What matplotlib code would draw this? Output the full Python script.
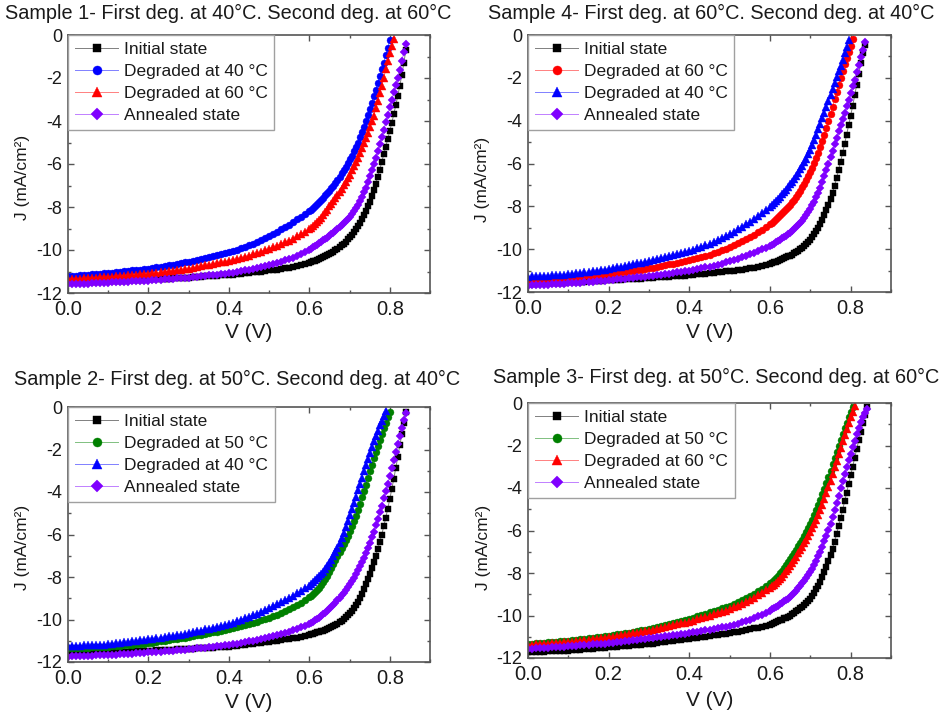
import matplotlib
matplotlib.use("Agg")
import matplotlib.pyplot as plt
from matplotlib.ticker import MultipleLocator, FormatStrFormatter
from matplotlib.colors import to_rgba

plt.rcParams['font.family'] = ['Liberation Sans', 'DejaVu Sans']
plt.rcParams['axes.unicode_minus'] = False

# Voltage sweep (V): 10 mV steps up to 0.6 V, 5 mV steps beyond
VOLTS = [0.00, 0.01, 0.02, 0.03, 0.04, 0.05, 0.06, 0.07, 0.08, 0.09,
         0.10, 0.11, 0.12, 0.13, 0.14, 0.15, 0.16, 0.17, 0.18, 0.19,
         0.20, 0.21, 0.22, 0.23, 0.24, 0.25, 0.26, 0.27, 0.28, 0.29,
         0.30, 0.31, 0.32, 0.33, 0.34, 0.35, 0.36, 0.37, 0.38, 0.39,
         0.40, 0.41, 0.42, 0.43, 0.44, 0.45, 0.46, 0.47, 0.48, 0.49,
         0.50, 0.51, 0.52, 0.53, 0.54, 0.55, 0.56, 0.57, 0.58, 0.59,
         0.60,
         0.605, 0.61, 0.615, 0.62, 0.625, 0.63, 0.635, 0.64, 0.645, 0.65,
         0.655, 0.66, 0.665, 0.67, 0.675, 0.68, 0.685, 0.69, 0.695, 0.70,
         0.705, 0.71, 0.715, 0.72, 0.725, 0.73, 0.735, 0.74, 0.745, 0.75,
         0.755, 0.76, 0.765, 0.77, 0.775, 0.78, 0.785, 0.79, 0.795, 0.80,
         0.805, 0.81, 0.815, 0.82, 0.825, 0.83, 0.835, 0.84]

# ---- Sample 1 current density (mA/cm2) ----
S1_INITIAL = [
    -11.52, -11.51, -11.51, -11.50, -11.49, -11.48, -11.48, -11.47, -11.46, -11.46,
    -11.45, -11.44, -11.43, -11.43, -11.42, -11.41, -11.40, -11.39, -11.39, -11.38,
    -11.37, -11.36, -11.35, -11.34, -11.33, -11.33, -11.32, -11.31, -11.30, -11.29,
    -11.28, -11.27, -11.26, -11.24, -11.23, -11.22, -11.21, -11.20, -11.18, -11.17,
    -11.16, -11.14, -11.12, -11.10, -11.08, -11.06, -11.04, -11.02, -11.00, -10.97,
    -10.95, -10.93, -10.91, -10.89, -10.86, -10.83, -10.80, -10.76, -10.71, -10.66,
    -10.60,
    -10.57, -10.53, -10.50, -10.46, -10.42, -10.38, -10.33, -10.29, -10.24, -10.19,
    -10.13, -10.07, -10.01, -9.94, -9.87, -9.79, -9.70, -9.61, -9.51, -9.40,
    -9.29, -9.17, -9.04, -8.90, -8.74, -8.57, -8.39, -8.19, -7.97, -7.75,
    -7.50, -7.22, -6.92, -6.60, -6.26, -5.91, -5.55, -5.19, -4.83, -4.46,
    -4.08, -3.68, -3.26, -2.82, -2.35, -1.85, -1.30, -0.70]
S1_DEG40 = [
    -11.22, -11.20, -11.19, -11.17, -11.16, -11.14, -11.13, -11.11, -11.10, -11.08,
    -11.07, -11.05, -11.03, -11.01, -10.99, -10.97, -10.95, -10.93, -10.91, -10.89,
    -10.87, -10.84, -10.81, -10.77, -10.74, -10.71, -10.68, -10.65, -10.61, -10.58,
    -10.55, -10.51, -10.47, -10.42, -10.38, -10.33, -10.28, -10.24, -10.19, -10.15,
    -10.10, -10.04, -9.98, -9.92, -9.85, -9.78, -9.71, -9.63, -9.54, -9.45,
    -9.35, -9.25, -9.15, -9.04, -8.93, -8.82, -8.70, -8.58, -8.46, -8.33,
    -8.20,
    -8.12, -8.04, -7.95, -7.86, -7.77, -7.67, -7.57, -7.46, -7.35, -7.24,
    -7.12, -7.00, -6.87, -6.73, -6.59, -6.44, -6.29, -6.13, -5.96, -5.79,
    -5.61, -5.41, -5.21, -5.00, -4.76, -4.51, -4.26, -4.00, -3.72, -3.43,
    -3.14, -2.85, -2.54, -2.23, -1.92, -1.60, -1.28, -0.95, -0.60, -0.25]
S1_DEG60 = [
    -11.36, -11.35, -11.34, -11.33, -11.32, -11.31, -11.29, -11.28, -11.27, -11.26,
    -11.25, -11.24, -11.22, -11.21, -11.19, -11.18, -11.16, -11.15, -11.13, -11.12,
    -11.10, -11.08, -11.05, -11.03, -11.01, -10.99, -10.96, -10.94, -10.92, -10.89,
    -10.87, -10.83, -10.80, -10.76, -10.72, -10.69, -10.65, -10.61, -10.57, -10.54,
    -10.50, -10.46, -10.41, -10.36, -10.31, -10.26, -10.20, -10.15, -10.08, -10.02,
    -9.95, -9.88, -9.81, -9.73, -9.65, -9.56, -9.47, -9.37, -9.27, -9.15,
    -9.03,
    -8.96, -8.88, -8.80, -8.70, -8.60, -8.49, -8.37, -8.25, -8.12, -7.97,
    -7.84, -7.71, -7.57, -7.43, -7.29, -7.14, -6.98, -6.82, -6.66, -6.49,
    -6.30, -6.10, -5.90, -5.70, -5.48, -5.26, -5.03, -4.80, -4.54, -4.28,
    -4.02, -3.75, -3.41, -3.06, -2.71, -2.35, -1.98, -1.60, -1.23, -0.85,
    -0.50, -0.18]
S1_ANNEALED = [
    -11.60, -11.59, -11.58, -11.58, -11.57, -11.56, -11.55, -11.54, -11.54, -11.53,
    -11.52, -11.51, -11.50, -11.49, -11.48, -11.47, -11.46, -11.45, -11.44, -11.43,
    -11.42, -11.41, -11.39, -11.38, -11.36, -11.35, -11.34, -11.32, -11.31, -11.29,
    -11.28, -11.26, -11.24, -11.22, -11.20, -11.18, -11.16, -11.14, -11.12, -11.10,
    -11.08, -11.05, -11.02, -10.98, -10.95, -10.91, -10.87, -10.83, -10.79, -10.75,
    -10.70, -10.65, -10.60, -10.54, -10.48, -10.42, -10.35, -10.27, -10.19, -10.10,
    -10.00,
    -9.94, -9.88, -9.81, -9.75, -9.68, -9.62, -9.55, -9.48, -9.42, -9.35,
    -9.27, -9.19, -9.10, -9.02, -8.94, -8.85, -8.76, -8.66, -8.56, -8.45,
    -8.32, -8.19, -8.05, -7.90, -7.72, -7.53, -7.32, -7.10, -6.84, -6.57,
    -6.29, -6.00, -5.70, -5.39, -5.07, -4.75, -4.41, -4.06, -3.71, -3.35,
    -3.01, -2.67, -2.34, -2.00, -1.61, -1.20, -0.80, -0.40]

# ---- Sample 4 ----
S4_INITIAL = [
    -11.62, -11.61, -11.61, -11.60, -11.59, -11.59, -11.58, -11.57, -11.57, -11.56,
    -11.55, -11.54, -11.53, -11.52, -11.51, -11.50, -11.49, -11.48, -11.47, -11.46,
    -11.45, -11.44, -11.43, -11.42, -11.41, -11.40, -11.39, -11.38, -11.37, -11.36,
    -11.35, -11.34, -11.32, -11.31, -11.30, -11.29, -11.27, -11.26, -11.25, -11.23,
    -11.22, -11.20, -11.18, -11.16, -11.14, -11.12, -11.10, -11.08, -11.06, -11.04,
    -11.02, -11.00, -10.98, -10.96, -10.93, -10.90, -10.87, -10.83, -10.79, -10.75,
    -10.70,
    -10.66, -10.62, -10.58, -10.54, -10.50, -10.46, -10.42, -10.38, -10.34, -10.30,
    -10.25, -10.19, -10.13, -10.07, -10.01, -9.95, -9.86, -9.76, -9.66, -9.55,
    -9.42, -9.29, -9.15, -9.00, -8.82, -8.62, -8.40, -8.17, -7.92, -7.65,
    -7.36, -7.05, -6.68, -6.30, -5.91, -5.50, -5.08, -4.65, -4.21, -3.77,
    -3.30, -2.82, -2.32, -1.82, -1.32, -0.84, -0.45]
S4_DEG60 = [
    -11.45, -11.44, -11.43, -11.42, -11.41, -11.40, -11.39, -11.38, -11.37, -11.36,
    -11.35, -11.33, -11.31, -11.29, -11.27, -11.25, -11.23, -11.21, -11.19, -11.17,
    -11.15, -11.13, -11.10, -11.08, -11.05, -11.03, -11.00, -10.98, -10.95, -10.93,
    -10.90, -10.86, -10.82, -10.79, -10.75, -10.71, -10.67, -10.63, -10.60, -10.56,
    -10.52, -10.47, -10.42, -10.36, -10.31, -10.25, -10.19, -10.12, -10.05, -9.98,
    -9.90, -9.82, -9.73, -9.64, -9.54, -9.44, -9.33, -9.22, -9.10, -8.97,
    -8.84,
    -8.76, -8.68, -8.59, -8.51, -8.42, -8.33, -8.24, -8.14, -8.04, -7.94,
    -7.82, -7.70, -7.57, -7.43, -7.28, -7.12, -6.95, -6.78, -6.59, -6.40,
    -6.19, -5.97, -5.74, -5.50, -5.23, -4.95, -4.66, -4.36, -4.03, -3.69,
    -3.35, -3.01, -2.67, -2.33, -1.99, -1.66, -1.35, -1.06, -0.79, -0.52,
    -0.20]
S4_DEG40 = [
    -11.28, -11.27, -11.26, -11.25, -11.24, -11.23, -11.22, -11.21, -11.20, -11.19,
    -11.18, -11.15, -11.13, -11.10, -11.08, -11.05, -11.02, -11.00, -10.97, -10.95,
    -10.92, -10.88, -10.85, -10.81, -10.77, -10.74, -10.70, -10.66, -10.63, -10.59,
    -10.55, -10.50, -10.46, -10.41, -10.36, -10.32, -10.27, -10.22, -10.17, -10.13,
    -10.08, -10.02, -9.96, -9.89, -9.82, -9.75, -9.67, -9.58, -9.49, -9.40,
    -9.30, -9.19, -9.08, -8.96, -8.84, -8.72, -8.59, -8.46, -8.33, -8.19,
    -8.05,
    -7.96, -7.86, -7.76, -7.66, -7.55, -7.44, -7.33, -7.22, -7.10, -6.98,
    -6.85, -6.72, -6.58, -6.43, -6.28, -6.12, -5.95, -5.77, -5.57, -5.37,
    -5.14, -4.90, -4.65, -4.40, -4.14, -3.88, -3.62, -3.35, -3.08, -2.81,
    -2.53, -2.25, -1.98, -1.70, -1.43, -1.15, -0.86, -0.56, -0.25]
S4_ANNEALED = [
    -11.70, -11.69, -11.68, -11.67, -11.66, -11.65, -11.64, -11.63, -11.62, -11.61,
    -11.60, -11.59, -11.57, -11.56, -11.54, -11.53, -11.51, -11.50, -11.48, -11.47,
    -11.45, -11.43, -11.41, -11.40, -11.38, -11.36, -11.34, -11.32, -11.31, -11.29,
    -11.27, -11.24, -11.22, -11.19, -11.16, -11.14, -11.11, -11.08, -11.06, -11.03,
    -11.00, -10.97, -10.93, -10.89, -10.85, -10.81, -10.77, -10.72, -10.67, -10.61,
    -10.55, -10.50, -10.44, -10.38, -10.31, -10.24, -10.17, -10.09, -10.01, -9.93,
    -9.85,
    -9.80, -9.74, -9.68, -9.62, -9.56, -9.50, -9.44, -9.38, -9.31, -9.24,
    -9.16, -9.07, -8.98, -8.88, -8.78, -8.67, -8.55, -8.42, -8.28, -8.13,
    -7.96, -7.78, -7.58, -7.37, -7.13, -6.88, -6.60, -6.31, -6.01, -5.71,
    -5.41, -5.10, -4.80, -4.50, -4.20, -3.90, -3.62, -3.33, -3.03, -2.72,
    -2.40, -2.08, -1.75, -1.40, -1.05, -0.70, -0.35]

# ---- Sample 2 ----
S2_INITIAL = [
    -11.60, -11.60, -11.59, -11.59, -11.58, -11.58, -11.57, -11.57, -11.56, -11.56,
    -11.55, -11.54, -11.53, -11.53, -11.52, -11.51, -11.50, -11.50, -11.49, -11.48,
    -11.47, -11.46, -11.45, -11.44, -11.43, -11.43, -11.42, -11.41, -11.40, -11.39,
    -11.38, -11.37, -11.36, -11.35, -11.34, -11.33, -11.32, -11.31, -11.30, -11.29,
    -11.28, -11.26, -11.24, -11.21, -11.19, -11.16, -11.14, -11.11, -11.09, -11.06,
    -11.04, -11.02, -10.99, -10.97, -10.94, -10.91, -10.88, -10.85, -10.81, -10.77,
    -10.73,
    -10.70, -10.67, -10.64, -10.61, -10.58, -10.55, -10.52, -10.49, -10.46, -10.42,
    -10.37, -10.32, -10.26, -10.20, -10.13, -10.06, -9.98, -9.90, -9.81, -9.71,
    -9.59, -9.46, -9.32, -9.16, -8.98, -8.78, -8.57, -8.35, -8.11, -7.86,
    -7.59, -7.30, -7.00, -6.69, -6.36, -6.00, -5.62, -5.21, -4.78, -4.33,
    -3.86, -3.37, -2.86, -2.34, -1.81, -1.27, -0.74, -0.22]
S2_DEG50 = [
    -11.36, -11.35, -11.34, -11.34, -11.33, -11.32, -11.31, -11.30, -11.30, -11.29,
    -11.28, -11.26, -11.25, -11.23, -11.22, -11.20, -11.18, -11.17, -11.15, -11.14,
    -11.12, -11.09, -11.06, -11.03, -11.00, -10.97, -10.94, -10.91, -10.88, -10.85,
    -10.82, -10.78, -10.75, -10.71, -10.68, -10.64, -10.60, -10.57, -10.53, -10.50,
    -10.46, -10.42, -10.37, -10.32, -10.27, -10.22, -10.16, -10.10, -10.04, -9.98,
    -9.92, -9.85, -9.78, -9.70, -9.61, -9.51, -9.41, -9.31, -9.20, -9.08,
    -8.95,
    -8.88, -8.80, -8.71, -8.61, -8.50, -8.37, -8.24, -8.09, -7.93, -7.75,
    -7.58, -7.40, -7.21, -7.02, -6.83, -6.64, -6.45, -6.25, -6.05, -5.85,
    -5.62, -5.38, -5.12, -4.84, -4.55, -4.25, -3.95, -3.65, -3.34, -3.03,
    -2.72, -2.42, -2.12, -1.83, -1.55, -1.28, -1.01, -0.75, -0.49, -0.24]
S2_DEG40 = [
    -11.25, -11.24, -11.23, -11.23, -11.22, -11.21, -11.20, -11.19, -11.19, -11.18,
    -11.17, -11.15, -11.12, -11.10, -11.07, -11.05, -11.03, -11.00, -10.98, -10.95,
    -10.93, -10.90, -10.87, -10.85, -10.82, -10.79, -10.76, -10.73, -10.71, -10.68,
    -10.65, -10.61, -10.56, -10.52, -10.47, -10.43, -10.39, -10.34, -10.30, -10.25,
    -10.21, -10.15, -10.09, -10.02, -9.95, -9.88, -9.81, -9.73, -9.65, -9.56,
    -9.47, -9.38, -9.29, -9.19, -9.09, -8.99, -8.88, -8.76, -8.64, -8.52,
    -8.40,
    -8.33, -8.25, -8.16, -8.07, -7.97, -7.86, -7.75, -7.63, -7.50, -7.36,
    -7.20, -7.02, -6.83, -6.62, -6.40, -6.16, -5.91, -5.65, -5.38, -5.10,
    -4.81, -4.52, -4.22, -3.92, -3.62, -3.32, -3.03, -2.74, -2.45, -2.17,
    -1.89, -1.62, -1.36, -1.11, -0.87, -0.64, -0.42, -0.21]
S2_ANNEALED = [
    -11.75, -11.74, -11.73, -11.73, -11.72, -11.71, -11.70, -11.69, -11.69, -11.68,
    -11.67, -11.66, -11.65, -11.63, -11.62, -11.61, -11.60, -11.59, -11.57, -11.56,
    -11.55, -11.54, -11.52, -11.51, -11.49, -11.48, -11.46, -11.45, -11.43, -11.42,
    -11.40, -11.38, -11.36, -11.34, -11.32, -11.30, -11.28, -11.26, -11.24, -11.22,
    -11.20, -11.17, -11.13, -11.10, -11.06, -11.03, -10.99, -10.95, -10.91, -10.88,
    -10.84, -10.79, -10.74, -10.69, -10.63, -10.57, -10.51, -10.44, -10.37, -10.29,
    -10.21,
    -10.16, -10.10, -10.04, -9.98, -9.91, -9.84, -9.76, -9.68, -9.59, -9.50,
    -9.41, -9.31, -9.20, -9.09, -8.98, -8.86, -8.74, -8.62, -8.49, -8.35,
    -8.20, -8.04, -7.87, -7.69, -7.50, -7.30, -7.09, -6.87, -6.64, -6.40,
    -6.14, -5.86, -5.57, -5.27, -4.96, -4.64, -4.30, -3.95, -3.60, -3.24,
    -2.87, -2.50, -2.12, -1.74, -1.36, -0.98, -0.60, -0.28]

# ---- Sample 3 ----
S3_INITIAL = [
    -11.73, -11.72, -11.71, -11.71, -11.70, -11.69, -11.68, -11.67, -11.67, -11.66,
    -11.65, -11.64, -11.62, -11.61, -11.59, -11.58, -11.56, -11.55, -11.53, -11.52,
    -11.50, -11.48, -11.47, -11.45, -11.44, -11.42, -11.40, -11.39, -11.37, -11.36,
    -11.34, -11.32, -11.29, -11.27, -11.24, -11.22, -11.20, -11.17, -11.15, -11.12,
    -11.10, -11.07, -11.04, -11.02, -10.99, -10.96, -10.93, -10.90, -10.88, -10.85,
    -10.82, -10.79, -10.76, -10.72, -10.69, -10.65, -10.61, -10.57, -10.53, -10.48,
    -10.43,
    -10.39, -10.35, -10.31, -10.27, -10.23, -10.19, -10.14, -10.10, -10.05, -10.00,
    -9.94, -9.88, -9.81, -9.74, -9.66, -9.58, -9.50, -9.41, -9.31, -9.20,
    -9.07, -8.93, -8.77, -8.60, -8.41, -8.20, -7.97, -7.72, -7.45, -7.16,
    -6.85, -6.52, -6.17, -5.80, -5.42, -5.03, -4.63, -4.22, -3.81, -3.40,
    -2.99, -2.58, -2.17, -1.76, -1.36, -0.96, -0.57, -0.20]
S3_DEG50 = [
    -11.34, -11.32, -11.31, -11.29, -11.28, -11.26, -11.24, -11.23, -11.21, -11.20,
    -11.18, -11.16, -11.13, -11.11, -11.09, -11.07, -11.04, -11.02, -11.00, -10.97,
    -10.95, -10.92, -10.89, -10.86, -10.83, -10.80, -10.76, -10.73, -10.70, -10.67,
    -10.64, -10.59, -10.54, -10.50, -10.45, -10.40, -10.35, -10.30, -10.26, -10.21,
    -10.16, -10.10, -10.04, -9.97, -9.91, -9.85, -9.79, -9.73, -9.67, -9.61,
    -9.54, -9.46, -9.37, -9.28, -9.18, -9.08, -8.97, -8.86, -8.74, -8.61,
    -8.47,
    -8.40, -8.32, -8.23, -8.13, -8.02, -7.90, -7.77, -7.63, -7.49, -7.34,
    -7.20, -7.06, -6.91, -6.75, -6.59, -6.43, -6.26, -6.08, -5.90, -5.71,
    -5.50, -5.28, -5.05, -4.81, -4.56, -4.30, -4.03, -3.75, -3.47, -3.18,
    -2.89, -2.60, -2.30, -2.01, -1.73, -1.46, -1.19, -0.93, -0.68, -0.44,
    -0.20]
S3_DEG60 = [
    -11.39, -11.38, -11.36, -11.35, -11.34, -11.33, -11.31, -11.30, -11.29, -11.27,
    -11.26, -11.24, -11.21, -11.19, -11.17, -11.15, -11.12, -11.10, -11.08, -11.05,
    -11.03, -11.00, -10.97, -10.93, -10.90, -10.87, -10.84, -10.81, -10.77, -10.74,
    -10.71, -10.67, -10.63, -10.58, -10.54, -10.50, -10.46, -10.42, -10.37, -10.33,
    -10.29, -10.24, -10.18, -10.12, -10.07, -10.01, -9.95, -9.89, -9.83, -9.77,
    -9.70, -9.62, -9.54, -9.45, -9.36, -9.26, -9.16, -9.05, -8.94, -8.82,
    -8.70,
    -8.63, -8.56, -8.47, -8.38, -8.28, -8.17, -8.05, -7.92, -7.79, -7.65,
    -7.52, -7.38, -7.23, -7.08, -6.93, -6.77, -6.60, -6.43, -6.26, -6.09,
    -5.90, -5.70, -5.49, -5.27, -5.04, -4.79, -4.52, -4.24, -3.95, -3.65,
    -3.34, -3.03, -2.72, -2.41, -2.11, -1.81, -1.52, -1.23, -0.95, -0.67,
    -0.40, -0.14]
S3_ANNEALED = [
    -11.58, -11.57, -11.55, -11.54, -11.53, -11.52, -11.50, -11.49, -11.48, -11.46,
    -11.45, -11.44, -11.42, -11.41, -11.39, -11.38, -11.36, -11.35, -11.33, -11.32,
    -11.30, -11.28, -11.25, -11.23, -11.21, -11.19, -11.16, -11.14, -11.12, -11.09,
    -11.07, -11.05, -11.02, -11.00, -10.97, -10.95, -10.92, -10.90, -10.87, -10.85,
    -10.82, -10.79, -10.76, -10.72, -10.69, -10.66, -10.63, -10.59, -10.56, -10.52,
    -10.48, -10.43, -10.38, -10.32, -10.26, -10.19, -10.12, -10.04, -9.96, -9.87,
    -9.77,
    -9.71, -9.65, -9.59, -9.53, -9.47, -9.41, -9.34, -9.27, -9.21, -9.14,
    -9.04, -8.94, -8.83, -8.72, -8.61, -8.49, -8.37, -8.24, -8.11, -7.97,
    -7.80, -7.62, -7.43, -7.22, -7.00, -6.76, -6.51, -6.25, -5.97, -5.69,
    -5.37, -5.04, -4.70, -4.36, -4.02, -3.68, -3.34, -3.00, -2.69, -2.39,
    -2.09, -1.78, -1.48, -1.18, -0.90, -0.65, -0.45, -0.28]

BLACK, BLUE, RED, GREEN, VIOLET = '#000000', '#0000ff', '#ff0000', '#008000', '#8000ff'
TEXT = '#1a1a1a'
FIG_W, FIG_H = 943, 719

# Each panel: axes box in pixels (left, top, right, bottom), title, and its four curves
PANELS = [
    dict(box=(68, 35, 430, 293), title='Sample 1- First deg. at 40°C. Second deg. at 60°C',
         title_x=228, title_y=19, xlabel_y=333, ylabel_x=23, ylabel_y=177,
         curves=[(S1_INITIAL, 'Initial state', BLACK),
                 (S1_DEG40, 'Degraded at 40 °C', BLUE),
                 (S1_DEG60, 'Degraded at 60 °C', RED),
                 (S1_ANNEALED, 'Annealed state', VIOLET)]),
    dict(box=(528, 35, 891, 292), title='Sample 4- First deg. at 60°C. Second deg. at 40°C',
         title_x=711, title_y=19, xlabel_y=333, ylabel_x=483, ylabel_y=179,
         curves=[(S4_INITIAL, 'Initial state', BLACK),
                 (S4_DEG60, 'Degraded at 60 °C', RED),
                 (S4_DEG40, 'Degraded at 40 °C', BLUE),
                 (S4_ANNEALED, 'Annealed state', VIOLET)]),
    dict(box=(68, 407, 430, 662), title='Sample 2- First deg. at 50°C. Second deg. at 40°C',
         title_x=237, title_y=385, xlabel_y=702, ylabel_x=23, ylabel_y=547,
         curves=[(S2_INITIAL, 'Initial state', BLACK),
                 (S2_DEG50, 'Degraded at 50 °C', GREEN),
                 (S2_DEG40, 'Degraded at 40 °C', BLUE),
                 (S2_ANNEALED, 'Annealed state', VIOLET)]),
    dict(box=(528, 403, 891, 658), title='Sample 3- First deg. at 50°C. Second deg. at 60°C',
         title_x=716, title_y=383, xlabel_y=700, ylabel_x=484, ylabel_y=547,
         curves=[(S3_INITIAL, 'Initial state', BLACK),
                 (S3_DEG50, 'Degraded at 50 °C', GREEN),
                 (S3_DEG60, 'Degraded at 60 °C', RED),
                 (S3_ANNEALED, 'Annealed state', VIOLET)]),
]

# marker per curve position: initial, first degradation, second degradation, annealed
MARKERS = [('s', 4.4), ('o', 5.0), ('^', 5.4), ('D', 4.4)]

fig = plt.figure(figsize=(FIG_W / 100, FIG_H / 100), dpi=100)

for p in PANELS:
    l, t, r, b = p['box']
    ax = fig.add_axes([l / FIG_W, 1 - b / FIG_H, (r - l) / FIG_W, (b - t) / FIG_H])
    for (jv, label, col), (mk, ms) in zip(p['curves'], MARKERS):
        ax.plot(VOLTS[:len(jv)], jv, color=to_rgba(col, 0.5), lw=0.7,
                marker=mk, ms=ms, mfc=col, mec=col, mew=0.3, label=label)

    ax.set_xlim(0, 0.9)
    ax.set_ylim(-12, 0)
    ax.xaxis.set_major_locator(MultipleLocator(0.2))
    ax.xaxis.set_minor_locator(MultipleLocator(0.1))
    ax.yaxis.set_major_locator(MultipleLocator(2))
    ax.yaxis.set_minor_locator(MultipleLocator(1))
    ax.xaxis.set_major_formatter(FormatStrFormatter('%.1f'))
    ax.yaxis.set_major_formatter(FormatStrFormatter('%d'))
    ax.tick_params(which='both', direction='in', top=True, right=True,
                   color='#555555', width=1.0)
    ax.tick_params(which='major', length=4.5)
    ax.tick_params(which='minor', length=2.5)
    ax.tick_params(axis='x', labelsize=14.5, pad=5, labelcolor=TEXT)
    ax.tick_params(axis='y', labelsize=13, pad=4, labelcolor=TEXT)
    for sp in ax.spines.values():
        sp.set_color('#555555')
        sp.set_linewidth(1.2)

    leg = ax.legend(loc='upper left', borderaxespad=0.0, fancybox=False, framealpha=1,
                    edgecolor='#a0a0a0', fontsize=12.5, handlelength=2.5,
                    handletextpad=0.3, labelspacing=0.4, borderpad=0.4,
                    markerscale=1.3)
    leg.get_frame().set_linewidth(1.0)
    for txt in leg.get_texts():
        txt.set_color(TEXT)

    fig.text(p['title_x'] / FIG_W, 1 - p['title_y'] / FIG_H, p['title'],
             ha='center', va='baseline', fontsize=14.3, color=TEXT)
    fig.text((l + r) / 2 / FIG_W, 1 - p['xlabel_y'] / FIG_H, 'V (V)',
             ha='center', va='center', fontsize=15, color=TEXT)
    fig.text(p['ylabel_x'] / FIG_W, 1 - p['ylabel_y'] / FIG_H, 'J (mA/cm²)',
             ha='center', va='center', rotation=90, fontsize=12.5, color=TEXT)

fig.savefig('out.png', dpi=100)
